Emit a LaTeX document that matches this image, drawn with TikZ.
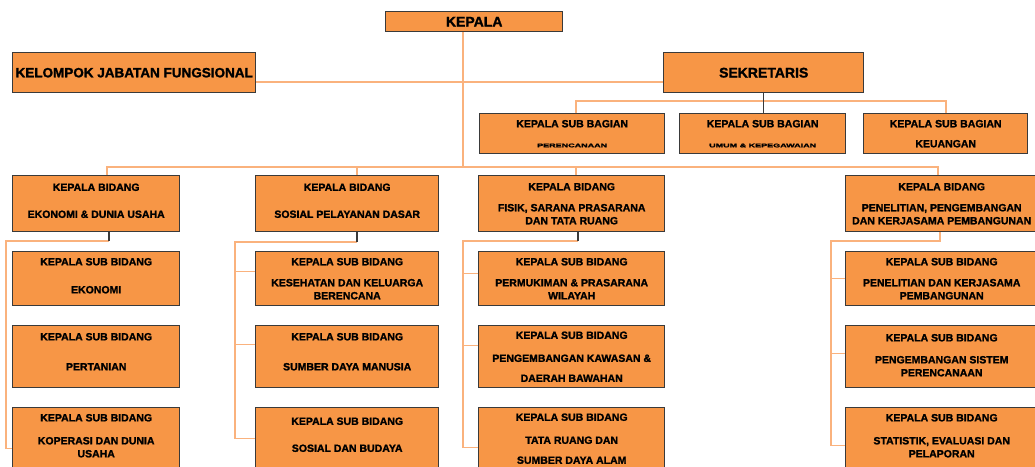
\documentclass[tikz,border=0pt]{standalone}
\usepackage{fontspec}
\setmainfont{Liberation Sans}[BoldFeatures={FakeBold=1.5}]
\definecolor{oranye}{HTML}{F79646}
\definecolor{garisoranye}{HTML}{FAB27D}
\definecolor{tepi}{HTML}{3A3A3A}
\newcommand{\kecil}[1]{\scalebox{1}[0.6]{\fontsize{9}{9}\selectfont #1}}
\newcommand{\bawah}[1]{\rule[-#1]{0pt}{#1}}

\begin{document}
\begin{tikzpicture}[x=1pt, y=-1pt,
  kotak/.style={draw=tepi, line width=1.4pt, fill=oranye, inner sep=0pt, align=center, anchor=north west, font=\bfseries\fontsize{10.5}{13}\selectfont},
  judul/.style={kotak, font=\bfseries\fontsize{14}{16}\selectfont},
  garis/.style={draw=garisoranye, line width=1.5pt},
  hitam/.style={draw=tepi, line width=1.4pt}]
  \useasboundingbox (0,0) rectangle (1035,466);

  % pimpinan
  \node[judul, minimum width=177, minimum height=20] (kepala) at (385,11) {KEPALA};
  \node[judul, font=\bfseries\fontsize{13.5}{16}\selectfont, minimum width=243, minimum height=40] (kjf) at (12,52) {KELOMPOK JABATAN FUNGSIONAL};
  \node[judul, minimum width=200, minimum height=40] (sekre) at (663,52) {SEKRETARIS};

  % sub bagian
  \node[kotak, minimum width=185, minimum height=40] (sb1) at (479,113) {KEPALA SUB BAGIAN\\[7pt]\kecil{PERENCANAAN}};
  \node[kotak, minimum width=166, minimum height=40] (sb2) at (679,113) {KEPALA SUB BAGIAN\\[7pt]\kecil{UMUM \& KEPEGAWAIAN}};
  \node[kotak, minimum width=164, minimum height=40] (sb3) at (863,113) {KEPALA SUB BAGIAN\\[7pt]KEUANGAN};

  % bidang
  \node[kotak, minimum width=167, minimum height=56] (bd1) at (12,175) {KEPALA BIDANG\\[14pt]EKONOMI \& DUNIA USAHA\bawah{6pt}};
  \node[kotak, minimum width=183, minimum height=56] (bd2) at (255,175) {KEPALA BIDANG\\[14pt]SOSIAL PELAYANAN DASAR\bawah{6pt}};
  \node[kotak, minimum width=186, minimum height=56] (bd3) at (478,175) {KEPALA BIDANG\\[8pt]FISIK, SARANA PRASARANA\\DAN TATA RUANG};
  \node[kotak, minimum width=192, minimum height=56] (bd4) at (845,175) {KEPALA BIDANG\\[8pt]PENELITIAN, PENGEMBANGAN\\DAN KERJASAMA PEMBANGUNAN};

  % sub bidang ekonomi
  \node[kotak, minimum width=167, minimum height=54] (s11) at (12,251) {KEPALA SUB BIDANG\\[15pt]EKONOMI\bawah{6pt}};
  \node[kotak, minimum width=167, minimum height=62] (s12) at (12,325) {KEPALA SUB BIDANG\\[17pt]PERTANIAN\bawah{10pt}};
  \node[kotak, minimum width=167, minimum height=62] (s13) at (12,407) {KEPALA SUB BIDANG\\[10pt]KOPERASI DAN DUNIA\\USAHA\bawah{6pt}};

  % sub bidang sosial
  \node[kotak, minimum width=183, minimum height=54] (s21) at (255,251) {KEPALA SUB BIDANG\\[8pt]KESEHATAN DAN KELUARGA\\BERENCANA};
  \node[kotak, minimum width=183, minimum height=62] (s22) at (255,325) {KEPALA SUB BIDANG\\[17pt]SUMBER DAYA MANUSIA\bawah{10pt}};
  \node[kotak, minimum width=183, minimum height=62] (s23) at (255,407) {KEPALA SUB BIDANG\\[14pt]SOSIAL DAN BUDAYA\bawah{8pt}};

  % sub bidang fisik
  \node[kotak, minimum width=186, minimum height=54] (s31) at (478,251) {KEPALA SUB BIDANG\\[8pt]PERMUKIMAN \& PRASARANA\\WILAYAH};
  \node[kotak, minimum width=186, minimum height=62] (s32) at (478,325) {KEPALA SUB BIDANG\\[10pt]PENGEMBANGAN KAWASAN \&\\[7pt]DAERAH BAWAHAN};
  \node[kotak, minimum width=186, minimum height=62] (s33) at (478,407) {KEPALA SUB BIDANG\\[10pt]TATA RUANG DAN\\[7pt]SUMBER DAYA ALAM};

  % sub bidang penelitian
  \node[kotak, minimum width=192, minimum height=54] (s41) at (845,251) {KEPALA SUB BIDANG\\[8pt]PENELITIAN DAN KERJASAMA\\PEMBANGUNAN};
  \node[kotak, minimum width=192, minimum height=62] (s42) at (845,325) {KEPALA SUB BIDANG\\[9pt]PENGEMBANGAN SISTEM\\PERENCANAAN\bawah{3pt}};
  \node[kotak, minimum width=192, minimum height=62] (s43) at (845,407) {KEPALA SUB BIDANG\\[10pt]STATISTIK, EVALUASI DAN\\PELAPORAN\bawah{6pt}};

  % titik cabang
  \coordinate (jf) at (255,82);
  \coordinate (sbk) at (576,101);
  \coordinate (sbn) at (946,101);
  \coordinate (pusat) at (463,167);
  \coordinate (j1) at (107,167);
  \coordinate (j2) at (357,167);
  \coordinate (j3) at (576,167);
  \coordinate (j4) at (938,167);
  \coordinate (k1) at (109,241);
  \coordinate (k2) at (357,242);
  \coordinate (k3) at (578,241);
  \coordinate (k4) at (940,241);
  \coordinate (v1) at (6,241);
  \coordinate (v2) at (235,242);
  \coordinate (v3) at (463,241);
  \coordinate (v4) at (831,241);

  % garis atas
  \draw[garis] (kjf.east |- jf) -- (sekre.west |- jf);
  \draw[garis] (kepala.south -| pusat) -- (pusat);
  \draw[garis] (sb1.north -| sbk) -- (sbk) -- (sbn) -- (sb3.north -| sbn);
  \draw[hitam] (sekre.south) -- (sekre.south |- sb2.north);
  \draw[garis] (bd1.north -| j1) -- (j1) -- (j4) -- (bd4.north -| j4);
  \draw[garis] (j2) -- (bd2.north -| j2);
  \draw[garis] (j3) -- (bd3.north -| j3);

  % garis bidang
  \draw[garis] (k1) -- (v1) |- ([yshift=-10pt]s13.west);
  \draw[hitam] (bd1.south -| k1) -- (k1);
  \draw[garis] (k2) -- (v2) |- (s23.west);
  \draw[garis] ([yshift=7pt]s21.west) -| (v2);
  \draw[garis] ([yshift=12pt]s22.west) -| (v2);
  \draw[hitam] (bd2.south -| k2) -- (k2);
  \draw[garis] (k3) -- (v3) |- ([yshift=-9pt]s33.west);
  \draw[garis] ([yshift=5pt]s31.west) -| (v3);
  \draw[garis] ([yshift=11pt]s32.west) -| (v3);
  \draw[hitam] (bd3.south -| k3) -- (k3);
  \draw[garis] (bd4.south -| k4) -- (k4) -- (v4) |- ([yshift=-7pt]s43.west);
  \draw[garis] (s41.west) -| (v4);
  \draw[garis] ([yshift=3pt]s42.west) -| (v4);
\end{tikzpicture}
\end{document}
